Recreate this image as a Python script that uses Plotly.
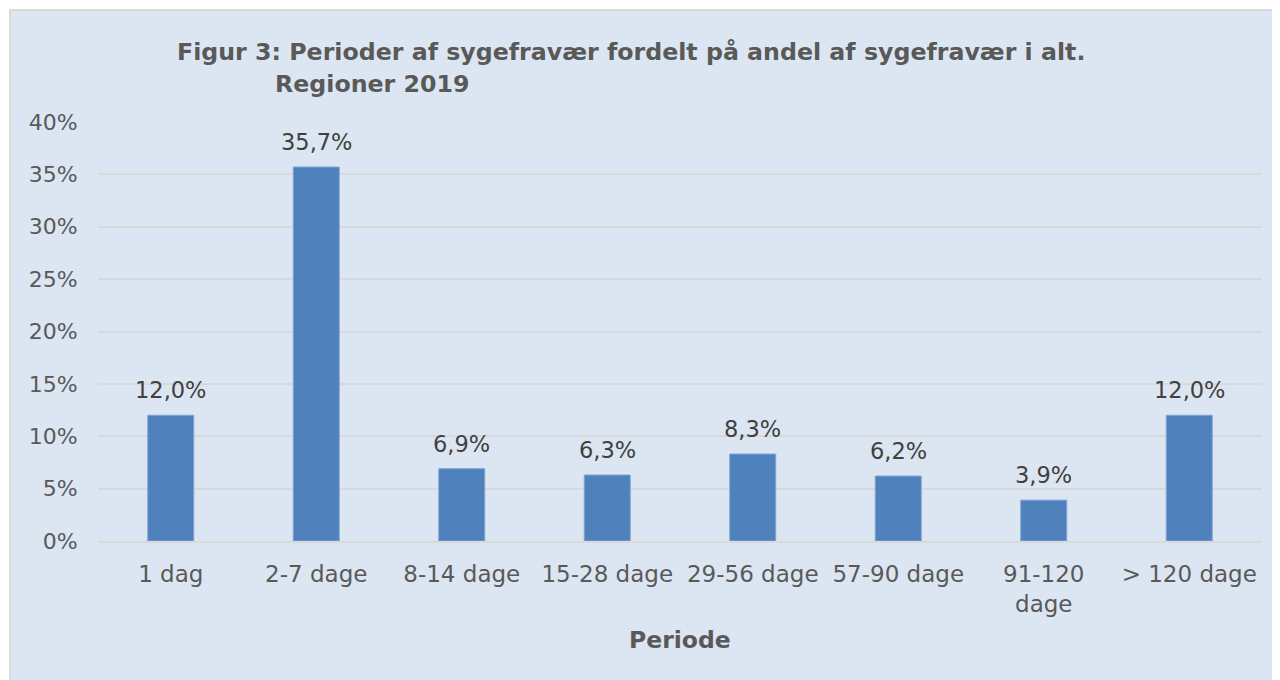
import plotly.graph_objects as go

categories = ["1 dag", "2-7 dage", "8-14 dage", "15-28 dage", "29-56 dage",
              "57-90 dage", "91-120<br>dage", "> 120 dage"]
values = [12.0, 35.7, 6.9, 6.3, 8.3, 6.2, 3.9, 12.0]
y_ticks = [0, 5, 10, 15, 20, 25, 30, 35, 40]
y_ticktext = [f"{v}%" for v in y_ticks]

FONT = "DejaVu Sans, Verdana, sans-serif"

# figure is placed at an 8px body offset in the page
W, H = 1272, 672
L, R, T, B = 90, 1254, 114, 533

def px_x(p):
    return (p - L) / (R - L)

def px_y(p):
    return (B - p) / (B - T)

fig = go.Figure(go.Bar(
    x=categories, y=values,
    marker=dict(color="#4f81bd", line=dict(color="#7ea3d3", width=1)),
    width=0.316,
    cliponaxis=False,
))

labels = [dict(x=c, y=v, xref="x", yref="y", text=f"{v:.1f}%".replace(".", ","),
               showarrow=False, yanchor="bottom", yshift=10,
               font=dict(family=FONT, size=22.5, color="#404040"))
          for c, v in zip(categories, values)]

fig.update_layout(
    width=W, height=H,
    margin=dict(l=L, r=W - R, t=T, b=H - B),
    paper_bgcolor="white",
    plot_bgcolor="rgba(0,0,0,0)",
    showlegend=False,
    font=dict(family=FONT, size=22, color="#595959"),
    xaxis=dict(
        showgrid=False, showline=True, linecolor="#d9d9d9", linewidth=2,
        ticks="outside", ticklen=11, tickcolor="rgba(0,0,0,0)",
        tickfont=dict(family=FONT, size=23, color="#595959"),
        tickangle=0,
    ),
    yaxis=dict(
        range=[0, 40], tickvals=y_ticks, ticktext=y_ticktext,
        showgrid=True, gridcolor="#d9d9d9", gridwidth=2,
        zeroline=False, showline=False,
        ticks="outside", ticklen=15, tickcolor="rgba(0,0,0,0)",
        tickfont=dict(family=FONT, size=22, color="#595959"),
    ),
    shapes=[dict(
        type="rect", xref="paper", yref="paper", layer="below",
        x0=px_x(2), x1=px_x(1290), y0=px_y(690), y1=px_y(2),
        fillcolor="#dce6f2", line=dict(color="#d9d9d9", width=2),
    )],
    annotations=labels + [
        dict(text="<b>Figur 3: Perioder af sygefravær fordelt på andel af sygefravær i alt.</b>",
             xref="paper", yref="paper", x=px_x(167), y=px_y(44),
             xanchor="left", yanchor="middle", showarrow=False,
             font=dict(family=FONT, size=23.7, color="#595959")),
        dict(text="<b>Regioner 2019</b>",
             xref="paper", yref="paper", x=px_x(265), y=px_y(76),
             xanchor="left", yanchor="middle", showarrow=False,
             font=dict(family=FONT, size=23.7, color="#595959")),
        dict(text="<b>Periode</b>",
             xref="paper", yref="paper", x=0.5, y=px_y(632),
             xanchor="center", yanchor="middle", showarrow=False,
             font=dict(family=FONT, size=23.5, color="#595959")),
    ],
)

fig.write_html("out.html")
